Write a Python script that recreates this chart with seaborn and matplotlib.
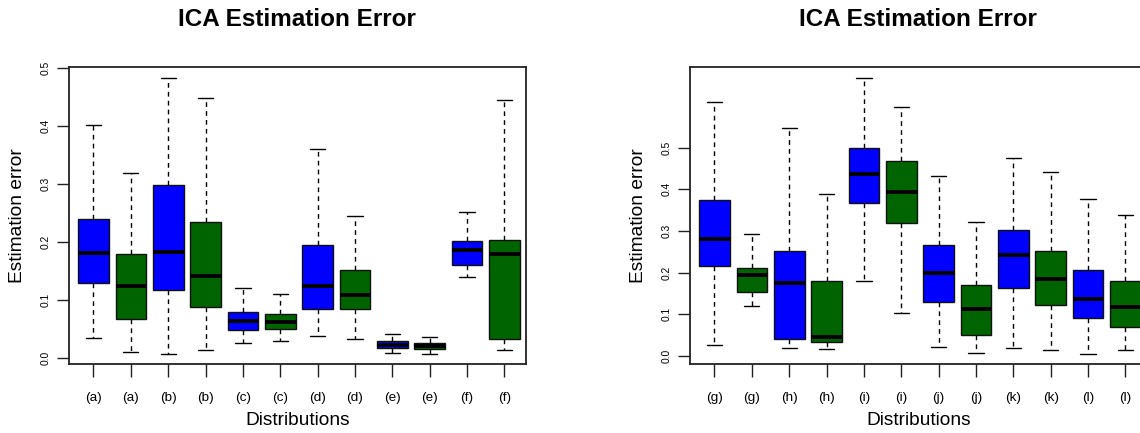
import matplotlib
matplotlib.use("Agg")
import matplotlib.pyplot as plt
import seaborn as sns
import pandas as pd

# ---------------- data ----------------
methods = ["A", "B"] * 6  # alternating blue / green boxes

left_labels = ["(a)", "(a)", "(b)", "(b)", "(c)", "(c)", "(d)", "(d)", "(e)", "(e)", "(f)", "(f)"]
left_whislo = [0.034, 0.010, 0.007, 0.013, 0.025, 0.029, 0.037, 0.032, 0.008, 0.007, 0.139, 0.014]
left_q1     = [0.128, 0.066, 0.116, 0.088, 0.048, 0.049, 0.084, 0.084, 0.017, 0.015, 0.160, 0.032]
left_med    = [0.180, 0.124, 0.182, 0.140, 0.064, 0.061, 0.124, 0.108, 0.022, 0.020, 0.186, 0.178]
left_q3     = [0.239, 0.178, 0.298, 0.234, 0.078, 0.075, 0.195, 0.151, 0.028, 0.025, 0.202, 0.203]
left_whishi = [0.402, 0.318, 0.482, 0.448, 0.120, 0.109, 0.359, 0.245, 0.041, 0.036, 0.252, 0.444]

right_labels = ["(g)", "(g)", "(h)", "(h)", "(i)", "(i)", "(j)", "(j)", "(k)", "(k)", "(l)", "(l)"]
right_whislo = [0.026, 0.119, 0.020, 0.017, 0.181, 0.102, 0.021, 0.007, 0.020, 0.015, 0.006, 0.015]
right_q1     = [0.217, 0.154, 0.040, 0.033, 0.366, 0.320, 0.130, 0.051, 0.162, 0.123, 0.090, 0.070]
right_med    = [0.281, 0.195, 0.174, 0.046, 0.437, 0.394, 0.198, 0.112, 0.242, 0.184, 0.137, 0.117]
right_q3     = [0.374, 0.210, 0.252, 0.180, 0.500, 0.467, 0.267, 0.170, 0.302, 0.251, 0.206, 0.179]
right_whishi = [0.609, 0.292, 0.548, 0.388, 0.667, 0.597, 0.432, 0.322, 0.475, 0.441, 0.377, 0.339]

left_yticks = [0.0, 0.1, 0.2, 0.3, 0.4, 0.5]
right_yticks = [0.0, 0.1, 0.2, 0.3, 0.4, 0.5]

title_text = "ICA Estimation Error"
xlabel_text = "Distributions"
ylabel_text = "Estimation error"

palette = {"A": "#0000FF", "B": "#006400"}

# ---------------- style ----------------
sns.set_style("ticks")
plt.rcParams["font.family"] = ["Liberation Sans", "DejaVu Sans"]
plt.rcParams["axes.edgecolor"] = "#222222"
plt.rcParams["text.color"] = "black"
plt.rcParams["axes.labelcolor"] = "black"
plt.rcParams["xtick.color"] = "black"
plt.rcParams["ytick.color"] = "black"
plt.rcParams["xtick.labelcolor"] = "black"
plt.rcParams["ytick.labelcolor"] = "black"


def long_frame(labels, lo, q1, med, q3, hi):
    rows = []
    for i in range(len(labels)):
        for v in (lo[i], q1[i], med[i], q3[i], hi[i]):
            rows.append({"box": i, "method": methods[i], "error": v})
    return pd.DataFrame(rows)


fig = plt.figure(figsize=(11.4, 4.33), dpi=100)
W, H = 1140.0, 433.0
frame_top, frame_bot = 66.7, 364.3
ax_l = fig.add_axes([69 / W, (H - frame_bot) / H, 456.7 / W, (frame_bot - frame_top) / H])
ax_r = fig.add_axes([690 / W, (H - frame_bot) / H, 456.7 / W, (frame_bot - frame_top) / H])

panels = [
    (ax_l, left_labels, left_whislo, left_q1, left_med, left_q3, left_whishi, left_yticks, (-0.0114, 0.5017)),
    (ax_r, right_labels, right_whislo, right_q1, right_med, right_q3, right_whishi, right_yticks, (-0.0199, 0.694)),
]

for ax, labels, lo, q1, med, q3, hi, yticks, ylim in panels:
    df = long_frame(labels, lo, q1, med, q3, hi)
    sns.boxplot(
        data=df, x="box", y="error", hue="method", order=list(range(len(labels))),
        palette=palette, dodge=False, saturation=1, width=0.82, whis=(0, 100),
        showfliers=False, linecolor="#111111", linewidth=1.0, legend=False, ax=ax,
        medianprops={"color": "black", "linewidth": 2.8, "solid_capstyle": "butt"},
        whiskerprops={"color": "black", "linewidth": 1.0, "linestyle": (0, (3.4, 3.0))},
        capprops={"color": "black", "linewidth": 1.0},
    )
    ax.set_xlim(-0.655, 11.57)
    ax.set_ylim(*ylim)
    ax.set_xticks(range(len(labels)))
    ax.set_xticklabels(labels)
    ax.set_yticks(yticks)
    ax.set_yticklabels([f"{t:.1f}" for t in yticks])
    for t in ax.get_yticklabels():
        t.set_rotation(90)
        t.set_va("center")
    ax.tick_params(axis="both", direction="out", length=9, width=1.0, color="#222222")
    ax.tick_params(axis="x", labelsize=9.7, pad=11)
    ax.tick_params(axis="y", labelsize=7.4, pad=4)
    for sp in ax.spines.values():
        sp.set_visible(True)
        sp.set_linewidth(1.3)
        sp.set_color("#222222")
    ax.set_xlabel(xlabel_text, fontsize=13.8, labelpad=6)
    ax.set_ylabel(ylabel_text, fontsize=13.8, labelpad=11)
    ax.set_title(title_text, fontsize=17.5, fontweight="bold", pad=29)

fig.savefig("out.png", dpi=100)
